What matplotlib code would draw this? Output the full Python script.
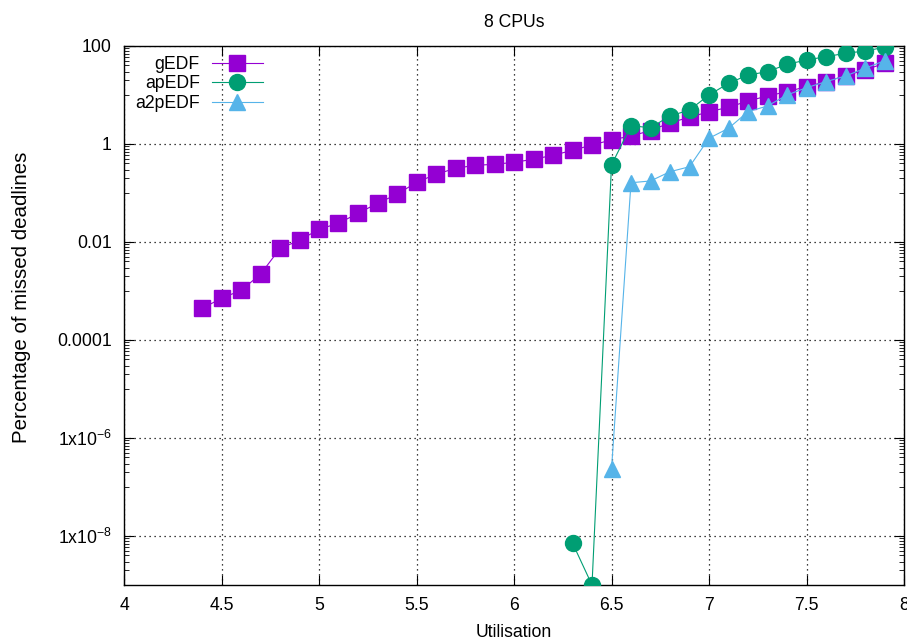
import numpy as np
import matplotlib
matplotlib.use('Agg')
import matplotlib.pyplot as plt
from matplotlib.ticker import FixedLocator, NullFormatter

plt.rcParams['font.family'] = ['Liberation Sans', 'DejaVu Sans']
plt.rcParams['mathtext.default'] = 'regular'

# utilisation values
x_g = [4.4, 4.5, 4.6, 4.7, 4.8, 4.9, 5.0, 5.1, 5.2, 5.3, 5.4, 5.5, 5.6, 5.7,
       5.8, 5.9, 6.0, 6.1, 6.2, 6.3, 6.4, 6.5, 6.6, 6.7, 6.8, 6.9, 7.0, 7.1,
       7.2, 7.3, 7.4, 7.5, 7.6, 7.7, 7.8, 7.9]
gedf = [4.4e-4, 7.1e-4, 1.03e-3, 2.19e-3, 7.4e-3, 0.0108, 0.0182, 0.0241,
        0.0385, 0.0616, 0.094, 0.165, 0.241, 0.319, 0.367, 0.385, 0.423,
        0.488, 0.588, 0.743, 0.955, 1.21, 1.46, 1.87, 2.72, 3.5, 4.57, 5.6,
        7.55, 9.55, 11.7, 14.8, 18.7, 24.8, 32.4, 44.4]

x_ap = [6.3, 6.4, 6.5, 6.6, 6.7, 6.8, 6.9, 7.0, 7.1, 7.2, 7.3, 7.4, 7.5,
        7.6, 7.7, 7.8, 7.9]
apedf = [7.2e-9, 1.0e-9, 0.373, 2.36, 2.15, 3.73, 4.94, 10.0, 17.3, 25.6,
         29.9, 42.3, 51.8, 60.5, 71.0, 79.0, 94.0]

x_a2 = [6.5, 6.6, 6.7, 6.8, 6.9, 7.0, 7.1, 7.2, 7.3, 7.4, 7.5, 7.6, 7.7,
        7.8, 7.9]
a2pedf = [2.3e-7, 0.162, 0.176, 0.272, 0.344, 1.31, 2.09, 4.57, 5.97, 10.0,
          14.1, 18.7, 24.4, 35.1, 50.0]

ytick_vals = [1e-8, 1e-6, 1e-4, 1e-2, 1, 100]
ytick_labels = ['1x10$^{-8}$', '1x10$^{-6}$', '0.0001', '0.01', '1', '100']
xtick_vals = [4, 4.5, 5, 5.5, 6, 6.5, 7, 7.5, 8]
xtick_labels = ['4', '4.5', '5', '5.5', '6', '6.5', '7', '7.5', '8']

fs = 12.7

fig = plt.figure(figsize=(9.07, 6.39), dpi=100)
ax = fig.add_axes([124 / 907, 1 - 585 / 639, 780 / 907, 539 / 639])

ax.plot(x_g, gedf, color='#9400D3', lw=0.8, marker='s', markersize=12,
        label='gEDF', zorder=3)
ax.plot(x_ap, apedf, color='#009E73', lw=0.8, marker='o', markersize=11.5,
        label='apEDF', zorder=4)
ax.plot(x_a2, a2pedf, color='#56B4E9', lw=0.8, marker='^', markersize=11.5,
        label='a2pEDF', zorder=5)

ax.set_yscale('log')
ax.set_xlim(4, 8)
ax.set_ylim(1e-9, 100)

ax.set_xticks(xtick_vals)
ax.set_xticklabels(xtick_labels)
ax.yaxis.set_major_locator(FixedLocator(ytick_vals))
ax.set_yticklabels(ytick_labels)
minor = []
for k in range(-10, 2, 2):
    for m in range(1, 10):
        v = m * 10.0 ** (k + 1)
        if v != 10.0 ** (k + 2) and v != 10.0 ** k:
            minor.append(v)
ax.yaxis.set_minor_locator(FixedLocator(minor))
ax.yaxis.set_minor_formatter(NullFormatter())

ax.tick_params(which='both', direction='in', top=True, right=True,
               labelsize=fs, colors='black')
ax.tick_params(which='major', length=7, width=0.8)
ax.tick_params(which='minor', length=3.5, width=0.6)
ax.tick_params(axis='x', which='major', pad=9)
ax.tick_params(axis='y', which='major', pad=9)

ax.grid(True, which='major', color='black', ls=(0, (1, 3)), lw=0.9)
for s in ax.spines.values():
    s.set_linewidth(1.0)

ax.set_title('8 CPUs', fontsize=fs, pad=14)
ax.set_xlabel('Utilisation', fontsize=fs, labelpad=6.5)
ax.set_ylabel('Percentage of missed deadlines', fontsize=14.8)
ax.yaxis.set_label_coords(-0.119, 0.534)

leg = ax.legend(loc='upper right', markerfirst=False, frameon=False,
                fontsize=fs, handlelength=2.9, handletextpad=0.68,
                labelspacing=0.15, borderpad=0, borderaxespad=0,
                bbox_to_anchor=((263 - 124) / 780, 0.982))

fig.savefig('out.png', dpi=100)
